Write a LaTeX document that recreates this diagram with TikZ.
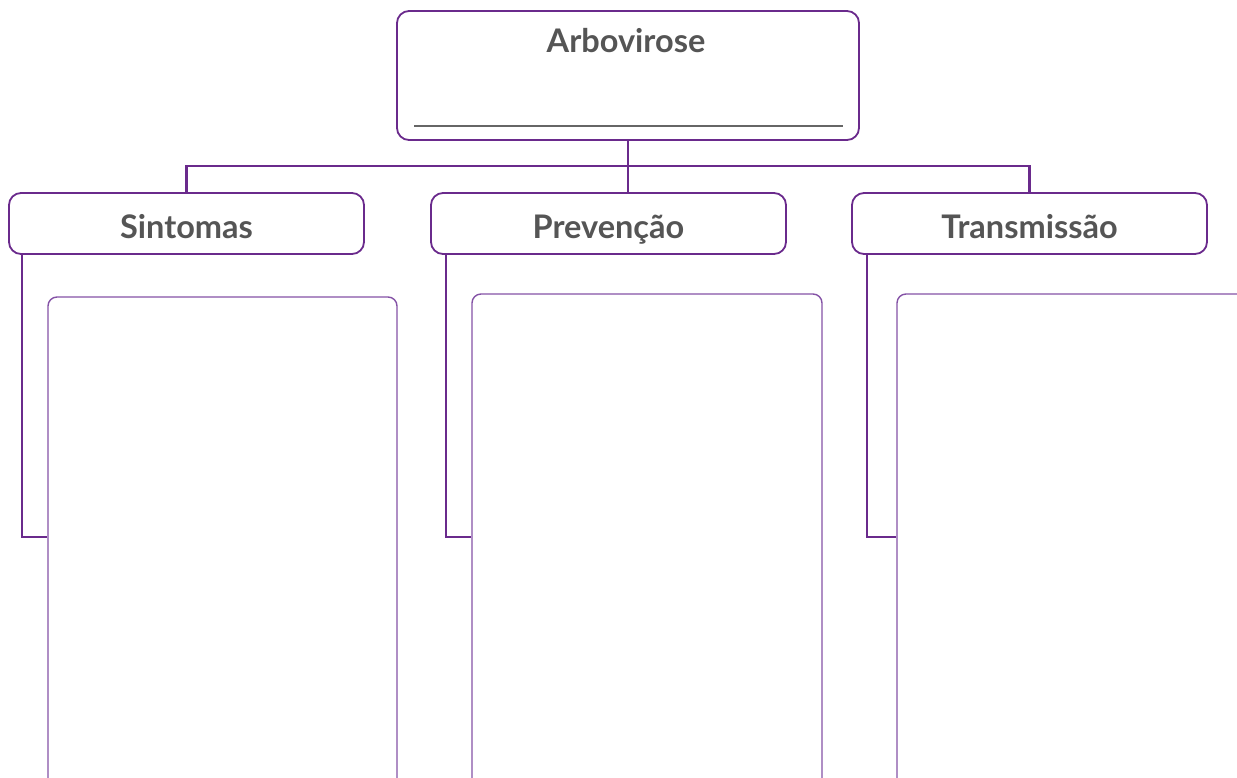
\documentclass[tikz,border=0pt]{standalone}
\usepackage{fontspec}
\setmainfont{Lato}
\usetikzlibrary{calc}
\definecolor{arbpurple}{HTML}{6A2A8C}
\definecolor{arbbox}{HTML}{8452A6}
\definecolor{arbtext}{HTML}{555555}
\tikzset{
  topbox/.style={draw=arbpurple, line width=1.8pt, rounded corners=12pt, minimum width=462pt, minimum height=129pt, inner sep=0pt},
  headbox/.style={draw=arbpurple, line width=1.8pt, rounded corners=12pt, minimum width=355pt, minimum height=61pt, inner sep=0pt,
    font=\fontsize{32.5}{38}\selectfont\bfseries, text=arbtext, text height=29pt, text depth=0pt},
  bigbox/.style={draw=arbbox, line width=1.4pt, rounded corners=9pt, minimum width=350pt, minimum height=520pt, inner sep=0pt},
  link/.style={draw=arbpurple, line width=2.6pt}
}
\begin{document}
\begin{tikzpicture}[x=1pt, y=-1pt]
		%%%%% START %%%%%
		\useasboundingbox (0,0) rectangle (1237,777);
		\clip (0,0) rectangle (1237,777);
		
		% top box
		\node[topbox] (arb) at (628, 75.5) {};
		\node[font=\fontsize{32.5}{38}\selectfont\bfseries, text=arbtext, anchor=base] (arbtitle) at (626, 52) {Arbovirose};
		\draw[line width=1.5pt, color=black!60] ($(arb.south west)+(18,-15)$) -- ($(arb.south east)+(-17,-15)$);
		
		% headers
		\node[headbox] (sint) at (186.5, 223.5) {Sintomas};
		\node[headbox] (prev) at (608.5, 223.5) {Prevenção};
		\node[headbox] (trans) at (1029.5, 223.5) {Transmissão};
		
		% answer boxes
		\node[bigbox, minimum width=349pt] (sintbox) at (222.5, 557) {};
		\node[bigbox] (prevbox) at (647, 554) {};
		\node[bigbox] (transbox) at (1072, 554) {};
		
		% connectors
		\coordinate (bar) at (628, 166);
		\coordinate (knee) at (0, 537);
		\draw[link] (arb.south) -- (arb.south |- prev.north);
		\draw[link] (sint.north) |- (bar) -| (trans.north);
		
		\draw[link] ($(sint.south west)+(14,0)$) |- (sintbox.west |- knee);
		\draw[link] ($(prev.south west)+(16,0)$) |- (prevbox.west |- knee);
		\draw[link] ($(trans.south west)+(16,0)$) |- (transbox.west |- knee);
		
		%%%%% END %%%%%
	\end{tikzpicture}
\end{document}
